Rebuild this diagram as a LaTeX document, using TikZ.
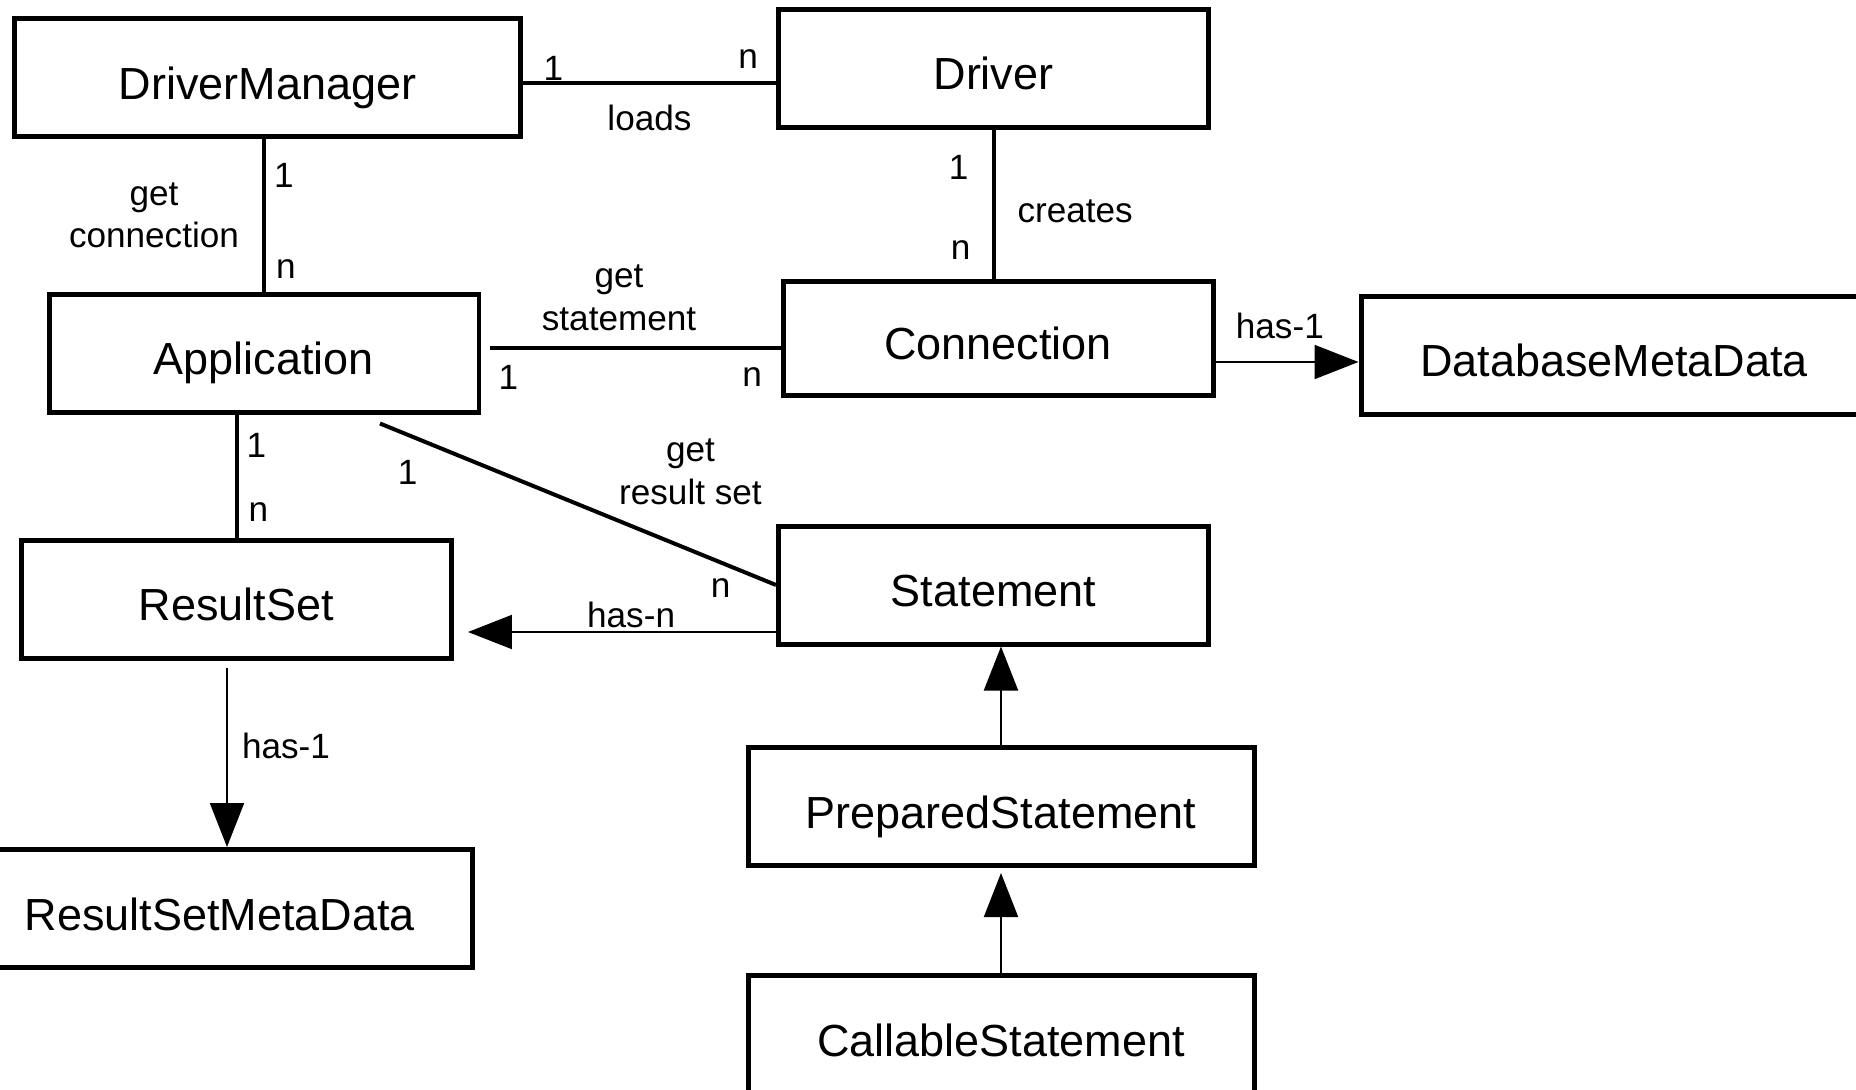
\documentclass[tikz,border=0pt]{standalone}
\usepackage{fontspec}
\setmainfont{Liberation Sans}
\usetikzlibrary{arrows.meta}

\begin{document}
\begin{tikzpicture}[x=0.1mm, y=-0.1mm,
    cls/.style={draw, line width=0.5mm, minimum width=43mm, minimum height=11.8mm, inner sep=0pt, text height=4.3mm, text depth=0mm, font=\fontsize{12.8}{15}\selectfont},
    wide/.style={cls, minimum width=50.6mm},
    assoc/.style={line width=0.4mm},
    has/.style={line width=0.2mm, -{Triangle[length=4.4mm, width=3.4mm]}},
    lbl/.style={inner sep=0pt, font=\fontsize{10}{12.2}\selectfont, align=center}]
\useasboundingbox (0,0) rectangle (1856,1090);
\clip (0,0) rectangle (1856,1090);
% Draw classes
\node[wide] (dm) at (267.5,77.5) {DriverManager};
\node[cls] (drv) at (993.5,68.5) {Driver};
\node[cls] (app) at (264,353) {Application};
\node[cls, minimum height=11.4mm] (conn) at (998,338) {Connection};
\node[wide] (dbmd) at (1614,355) {DatabaseMetaData};
\node[cls] (rs) at (236.5,599) {ResultSet};
\node[cls] (stm) at (993.5,585) {Statement};
\node[wide] (pstm) at (1001,806.5) {PreparedStatement};
\node[wide] (rsmd) at (220,908.5) {ResultSetMetaData};
\node[wide] (cstm) at (1001,1034.5) {CallableStatement};
% Draw associations
\draw[assoc] ([yshift=-0.5mm]dm.east) -- ([yshift=-0.5mm]dm.east -| drv.west)
    node[lbl, pos=0.12, above=0pt] {1}
    node[lbl, pos=0.89, above=1.2mm] {n}
    node[lbl, midway, below=2.1mm] {loads};
\draw[assoc] (dm.south -| app.north) -- (app.north)
    node[lbl, pos=0.24, right=0.8mm] {1}
    node[lbl, pos=0.85, right=1mm] {n}
    node[lbl, midway, left=2.3mm] {get\\connection};
\draw[assoc] (drv.south) -- (drv.south |- conn.north)
    node[lbl, pos=0.25, left=2.3mm] {1}
    node[lbl, pos=0.81, left=2.1mm] {n}
    node[lbl, pos=0.55, right=2.2mm] {creates};
\draw[assoc, shorten <=0.9mm] ([yshift=0.5mm]app.east) -- ([yshift=0.5mm]app.east -| conn.west)
    node[lbl, pos=0.09, below=1.5mm] {1}
    node[lbl, pos=0.905, below=1.8mm] {n}
    node[lbl, pos=0.46, above=1.5mm] {get\\statement};
\draw[assoc] (rs.north |- app.south) -- (rs.north)
    node[lbl, pos=0.25, right=0.8mm] {1}
    node[lbl, pos=0.79, right=1mm] {n};
\draw[assoc] ([xshift=11.6mm, yshift=-0.9mm]app.south) -- (stm.west)
    node[lbl, pos=0.07, below=2.4mm] {1}
    node[lbl, pos=0.86, below=1.4mm] {n}
    node[lbl, pos=0.784, above=4.3mm] {get\\result set};
% Draw has-links
\draw[has] ([yshift=-0.7mm]dbmd.west -| conn.east) -- ([yshift=-0.7mm]dbmd.west)
    node[lbl, pos=0.45, above=2.2mm] {has-1};
\draw[has, shorten >=1.4mm] ([yshift=-4.7mm]stm.west) -- ([yshift=-4.7mm]stm.west -| rs.east)
    node[lbl, pos=0.45, above=0.3mm] {has-n};
\draw[has, shorten <=0.7mm] ([xshift=-0.95mm]rs.south) -- ([xshift=-0.95mm]rs.south |- rsmd.north)
    node[lbl, pos=0.46, right=1.4mm] {has-1};
% Draw inheritance
\draw[has] (pstm.north) -- (pstm.north |- stm.south);
\draw[has, shorten >=0.5mm] (cstm.north) -- (cstm.north |- pstm.south);
\end{tikzpicture}
\end{document}
